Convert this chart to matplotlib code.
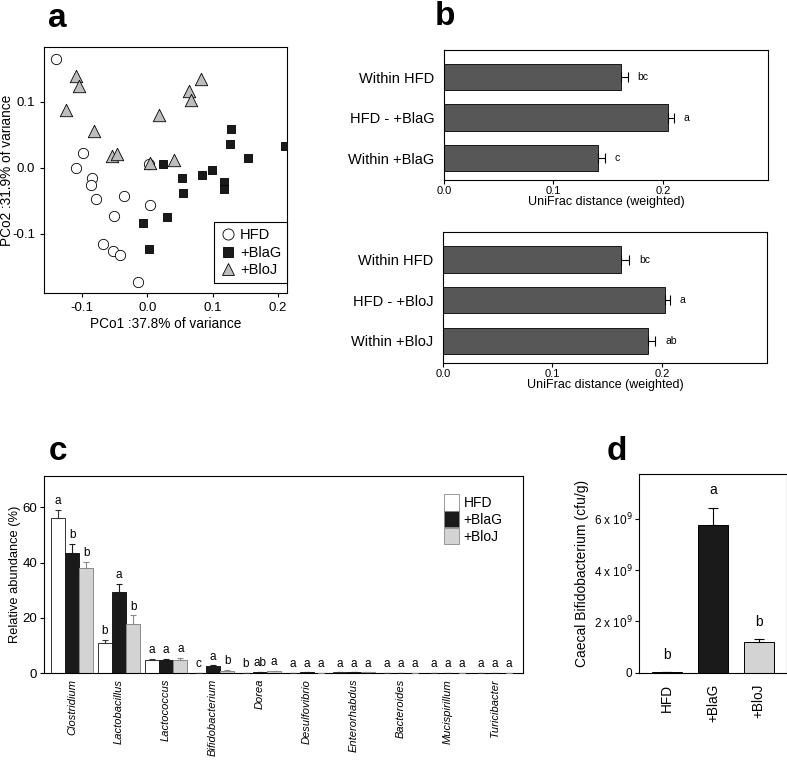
import matplotlib
matplotlib.use("Agg")
import matplotlib.pyplot as plt
from matplotlib.lines import Line2D
from matplotlib.patches import Patch

plt.rcParams.update({
    "font.family": "Liberation Sans", "font.size": 9,
    "axes.linewidth": 0.8, "xtick.major.width": 0.8, "ytick.major.width": 0.8,
    "xtick.major.size": 3, "ytick.major.size": 3,
})

# ---- panel a: PCoA coordinates
hfd_x = [-0.139, -0.098, -0.109, -0.085, -0.086, -0.079, -0.035, -0.051, 0.005, 0.002,
         -0.067, -0.052, -0.042, -0.014]
hfd_y = [0.165, 0.022, 0.000, -0.015, -0.027, -0.047, -0.043, -0.073, -0.057, 0.006,
         -0.116, -0.127, -0.132, -0.173]
blag_x = [0.129, 0.126, 0.211, 0.155, 0.024, 0.099, 0.084, 0.053, 0.117, 0.118, 0.055,
          0.030, -0.006, 0.002]
blag_y = [0.058, 0.036, 0.033, 0.014, 0.006, -0.004, -0.011, -0.016, -0.021, -0.033,
          -0.039, -0.075, -0.084, -0.123]
bloj_x = [-0.109, -0.105, -0.125, -0.082, 0.083, 0.064, 0.067, 0.018, -0.054, -0.047,
          0.005, 0.041]
bloj_y = [0.139, 0.124, 0.088, 0.056, 0.134, 0.117, 0.102, 0.080, 0.018, 0.021,
          0.007, 0.011]

# ---- panel b: UniFrac distances
b1_labels = ["Within HFD", "HFD - +BlaG", "Within +BlaG"]
b1_vals = [0.162, 0.205, 0.141]
b1_err = [0.006, 0.005, 0.006]
b1_sig = ["bc", "a", "c"]
b2_labels = ["Within HFD", "HFD - +BloJ", "Within +BloJ"]
b2_vals = [0.163, 0.203, 0.187]
b2_err = [0.007, 0.004, 0.007]
b2_sig = ["bc", "a", "ab"]

# ---- panel c: relative abundance per genus
genera = ["Clostridium", "Lactobacillus", "Lactococcus", "Bifidobacterium", "Dorea",
          "Desulfovibrio", "Enterorhabdus", "Bacteroides", "Mucispirillum", "Turicibacter"]
c_hfd = [56.1, 10.8, 4.7, 0.05, 0.2, 0.2, 0.3, 0.2, 0.2, 0.2]
c_hfd_err = [3.0, 1.2, 0.4, 0.02, 0.05, 0.05, 0.05, 0.05, 0.05, 0.05]
c_blag = [43.6, 29.4, 4.8, 2.5, 0.4, 0.3, 0.3, 0.2, 0.2, 0.2]
c_blag_err = [3.1, 2.9, 0.3, 0.4, 0.1, 0.05, 0.05, 0.05, 0.05, 0.05]
c_bloj = [38.1, 17.9, 4.8, 0.8, 0.7, 0.2, 0.3, 0.2, 0.2, 0.2]
c_bloj_err = [2.1, 3.0, 0.7, 0.3, 0.1, 0.05, 0.05, 0.05, 0.05, 0.05]
c_sig_hfd = ["a", "b", "a", "c", "b", "a", "a", "a", "a", "a"]
c_sig_blag = ["b", "a", "a", "a", "ab", "a", "a", "a", "a", "a"]
c_sig_bloj = ["b", "b", "a", "b", "a", "a", "a", "a", "a", "a"]

# ---- panel d: caecal Bifidobacterium counts
d_groups = ["HFD", "+BlaG", "+BloJ"]
d_vals = [0.02e9, 5.75e9, 1.21e9]
d_err = [0.0, 0.68e9, 0.10e9]
d_sig = ["b", "a", "b"]
d_ticks = [0, 2e9, 4e9, 6e9]
d_ticklabels = ["0", "2 x 10$^9$", "4 x 10$^9$", "6 x 10$^9$"]

WHITE, BLACK, LGREY, DGREY = "#ffffff", "#1a1a1a", "#d3d3d3", "#575757"

fig = plt.figure(figsize=(7.87, 7.62), dpi=100)

# panel a
ax = fig.add_axes([0.0559, 0.6155, 0.3088, 0.3228])
ax.scatter(hfd_x, hfd_y, s=55, marker="o", facecolor="white", edgecolor="black", lw=0.6,
           zorder=3)
ax.scatter(blag_x, blag_y, s=38, marker="s", facecolor=BLACK, edgecolor="black", lw=0.6,
           zorder=3)
ax.scatter(bloj_x, bloj_y, s=80, marker="^", facecolor="#bdbdbd", edgecolor="black", lw=0.6,
           zorder=3)
ax.set_xlim(-0.158, 0.214)
ax.set_ylim(-0.19, 0.183)
ax.set_xticks([-0.1, 0.0, 0.1, 0.2])
ax.set_xticklabels(["-0.1", "0.0", "0.1", "0.2"])
ax.set_yticks([-0.1, 0.0, 0.1])
ax.set_yticklabels(["-0.1", "0.0", "0.1"])
ax.tick_params(labelsize=9.5)
ax.set_xlabel("PCo1 :37.8% of variance", fontsize=9.8, labelpad=2)
ax.set_ylabel("PCo2 :31.9% of variance", fontsize=9.8)
ax.yaxis.set_label_coords(-0.125, 0.5)
handles = [
    Line2D([], [], ls="none", marker="o", ms=8, mfc="white", mec="black", mew=0.6),
    Line2D([], [], ls="none", marker="s", ms=6.5, mfc=BLACK, mec="black", mew=0.6),
    Line2D([], [], ls="none", marker="^", ms=9, mfc="#bdbdbd", mec="black", mew=0.6),
]
leg = ax.legend(handles, ["HFD", "+BlaG", "+BloJ"], loc="lower right", fontsize=10.5,
                fancybox=False, edgecolor="black", framealpha=1, handletextpad=0.2,
                borderaxespad=0, labelspacing=0.25, handlelength=1.2,
                bbox_to_anchor=(1.0, 0.04))
leg.get_frame().set_linewidth(0.8)
fig.text(0.061, 0.965, "a", fontsize=24, fontweight="bold", va="baseline")


def unifrac(rect, labels, vals, errs, sig):
    ax = fig.add_axes(rect)
    ys = list(range(len(labels)))[::-1]
    ax.barh(ys, vals, height=0.65, color=DGREY, edgecolor="black", lw=0.6, zorder=2)
    ax.errorbar(vals, ys, xerr=[[0] * len(vals), errs], fmt="none", ecolor="black",
                elinewidth=0.8, capsize=3.5, capthick=0.8, zorder=3)
    for y, v, e, s in zip(ys, vals, errs, sig):
        ax.text(v + e + 0.009, y, s, fontsize=7.5, va="center", ha="left")
    ax.set_yticks(ys)
    ax.set_yticklabels(labels, fontsize=10.5)
    ax.tick_params(axis="y", length=0, pad=7)
    ax.set_xlim(0, 0.296)
    ax.set_ylim(-0.54, 2.67)
    ax.set_xticks([0.0, 0.1, 0.2])
    ax.set_xticklabels(["0.0", "0.1", "0.2"])
    ax.tick_params(axis="x", labelsize=8, pad=1.5)
    ax.set_xlabel("UniFrac distance (weighted)", fontsize=9, labelpad=0)
    return ax


unifrac([0.5642, 0.7638, 0.4117, 0.1706], b1_labels, b1_vals, b1_err, b1_sig)
unifrac([0.5629, 0.5240, 0.4117, 0.1711], b2_labels, b2_vals, b2_err, b2_sig)
fig.text(0.553, 0.967, "b", fontsize=24, fontweight="bold", va="baseline")

# panel c
ax = fig.add_axes([0.0559, 0.1164, 0.6086, 0.2589])
w = 0.302
xs = list(range(len(genera)))
series = [
    (c_hfd, c_hfd_err, c_sig_hfd, WHITE, "#333333", "HFD", -w),
    (c_blag, c_blag_err, c_sig_blag, BLACK, "#1a1a1a", "+BlaG", 0),
    (c_bloj, c_bloj_err, c_sig_bloj, LGREY, "#8a8a8a", "+BloJ", w),
]
for vals, errs, sig, fc, ec, lab, off in series:
    px = [x + off for x in xs]
    ax.bar(px, vals, width=w, color=fc, edgecolor=ec, lw=0.7, zorder=2, label=lab)
    ax.errorbar(px, vals, yerr=[[0] * len(vals), errs], fmt="none", ecolor=ec,
                elinewidth=0.8, capsize=2.5, capthick=0.8, zorder=3)
    for x, v, e, s in zip(px, vals, errs, sig):
        ax.text(x, v + e + 1.0, s, fontsize=8.5, ha="center", va="bottom")
ax.set_xlim(-0.6, 9.6)
ax.set_ylim(0, 71.3)
ax.set_yticks([0, 20, 40, 60])
ax.tick_params(axis="y", labelsize=9.5, pad=2)
ax.set_xticks(xs)
ax.set_xticklabels(genera, rotation=90, fontsize=8, style="italic")
ax.tick_params(axis="x", length=0, pad=4)
ax.set_ylabel("Relative abundance (%)", fontsize=9.3)
ax.yaxis.set_label_coords(-0.048, 0.5)
lh = [Patch(facecolor=WHITE, edgecolor="#888888", lw=0.6),
      Patch(facecolor=BLACK, edgecolor="#888888", lw=0.6),
      Patch(facecolor=LGREY, edgecolor="#888888", lw=0.6)]
ax.legend(lh, ["HFD", "+BlaG", "+BloJ"], loc="upper right", frameon=False, fontsize=10,
          handlelength=1.1, handleheight=1.45, labelspacing=0.02, handletextpad=0.3,
          borderaxespad=0.55, bbox_to_anchor=(0.985, 0.975))
fig.text(0.062, 0.396, "c", fontsize=24, fontweight="bold", va="baseline")

# panel d
ax = fig.add_axes([0.8123, 0.1172, 0.1873, 0.2604])
dx = list(range(len(d_groups)))
ax.bar(dx, d_vals, width=0.65, color=[WHITE, BLACK, LGREY], edgecolor="black", lw=0.7,
       zorder=2)
ax.errorbar(dx, d_vals, yerr=[[0] * 3, d_err], fmt="none", ecolor="black",
            elinewidth=0.8, capsize=3.5, capthick=0.8, zorder=3)
for x, v, e, s in zip(dx, d_vals, d_err, d_sig):
    ax.text(x, v + e + 0.4e9, s, fontsize=10, ha="center", va="bottom")
ax.set_xlim(-0.61, 2.61)
ax.set_ylim(0, 7.73e9)
ax.set_yticks(d_ticks)
ax.set_yticklabels(d_ticklabels)
ax.tick_params(axis="y", labelsize=8.5, pad=2)
ax.set_xticks(dx)
ax.set_xticklabels(d_groups, rotation=90, fontsize=9.8)
ax.tick_params(axis="x", length=0, pad=8)
ax.set_ylabel("Caecal Bifidobacterium (cfu/g)", fontsize=10, labelpad=3)
fig.text(0.771, 0.396, "d", fontsize=24, fontweight="bold", va="baseline")

fig.savefig("out.png", dpi=100)
